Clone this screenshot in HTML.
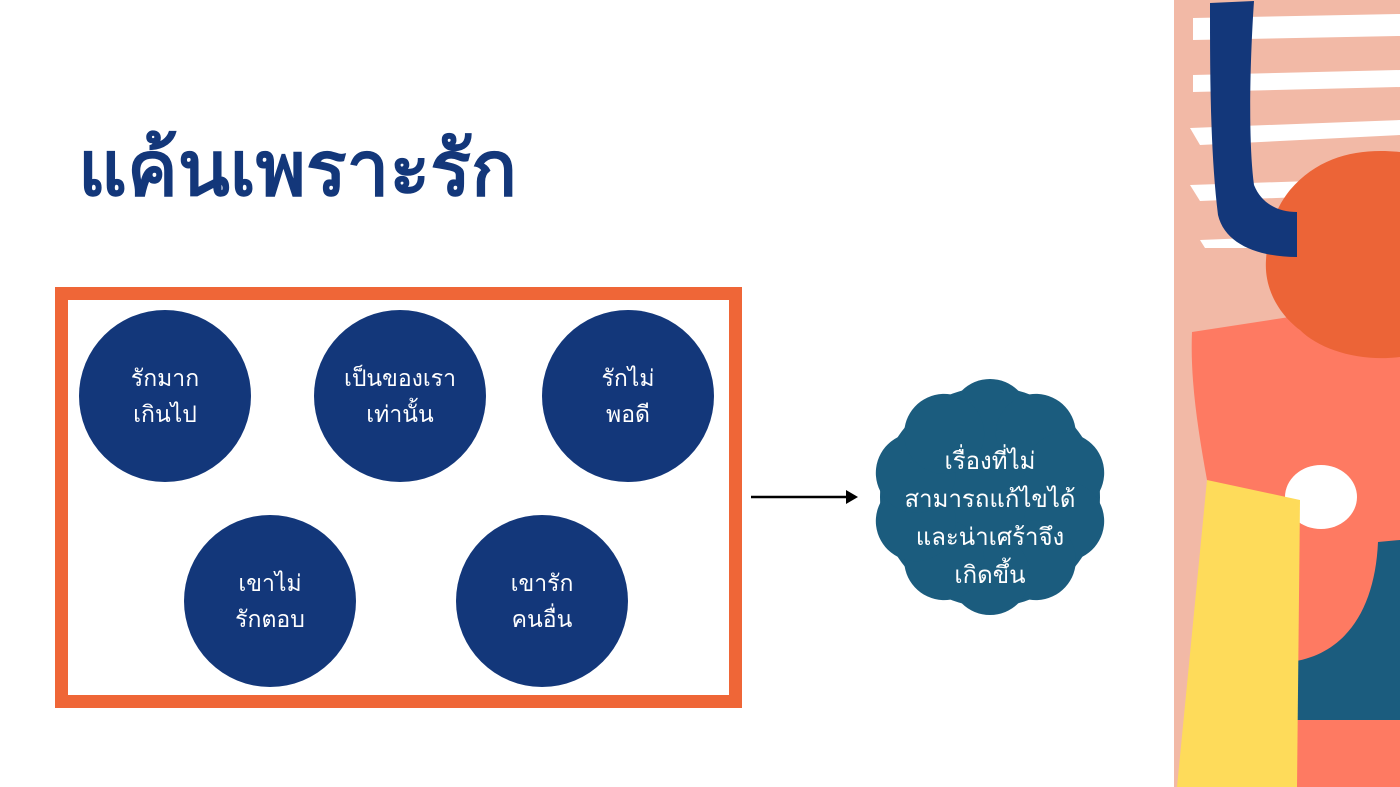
<!DOCTYPE html>
<html><head><meta charset="utf-8"><style>
html,body{margin:0;padding:0;width:1400px;height:787px;overflow:hidden;background:#fff;font-family:"Liberation Sans","DejaVu Sans","Noto Sans CJK SC",sans-serif;}
.t{position:absolute;left:78px;top:124px;font-size:76px;font-weight:bold;color:#13377a;white-space:nowrap;line-height:1.2}
.box{position:absolute;left:55px;top:287px;width:661px;height:395px;border:13px solid #ef6637}
.c{position:absolute;width:172px;height:172px;border-radius:50%;background:#13377a;color:#fff;font-size:23px;line-height:36px;display:flex;align-items:center;justify-content:center;text-align:center}
.b{position:absolute;left:870px;top:400px;width:240px;height:238px;color:#fff;font-size:24px;line-height:38px;display:flex;align-items:center;justify-content:center;text-align:center}
</style></head><body>
<div class="t">แค้นเพราะรัก</div>
<div class="box"></div>
<div class="c" style="left:79px;top:310px">รักมาก<br>เกินไป</div>
<div class="c" style="left:314px;top:310px">เป็นของเรา<br>เท่านั้น</div>
<div class="c" style="left:542px;top:310px">รักไม่<br>พอดี</div>
<div class="c" style="left:184px;top:515px">เขาไม่<br>รักตอบ</div>
<div class="c" style="left:456px;top:515px">เขารัก<br>คนอื่น</div>
<svg width="1400" height="787" style="position:absolute;left:0;top:0">
<line x1="751" y1="497" x2="848" y2="497" stroke="#000" stroke-width="2.5"/>
<polygon points="846,490 858,497 846,504" fill="#000"/>
<g fill="#1b5c7e" transform="translate(990,497)">
<circle r="110"/>
<g id="bp"><circle cx="0" cy="-78" r="40"/></g>
<use href="#bp" transform="rotate(36)"/><use href="#bp" transform="rotate(72)"/><use href="#bp" transform="rotate(108)"/><use href="#bp" transform="rotate(144)"/><use href="#bp" transform="rotate(180)"/><use href="#bp" transform="rotate(216)"/><use href="#bp" transform="rotate(252)"/><use href="#bp" transform="rotate(288)"/><use href="#bp" transform="rotate(324)"/>
</g>
<rect x="1174" y="0" width="226" height="787" fill="#f2b9a6"/>
<g fill="#fff">
<polygon points="1193,18 1400,14 1400,36 1193,40"/>
<polygon points="1193,75 1400,70 1400,87 1193,92"/>
<polygon points="1190,128 1400,120 1400,135 1200,145"/>
<polygon points="1190,185 1400,178 1400,193 1200,201"/>
<path d="M1200,240 L1300,236 L1300,248 L1205,248 Z"/>
</g>
<path d="M1192,332 L1400,300 L1400,787 L1230,787 L1207,480 C1198,430 1190,380 1192,332 Z" fill="#fe7a62"/>
<path d="M1290,190 C1320,155 1360,148 1400,152 L1400,357 C1360,362 1320,350 1300,330 C1280,315 1264,290 1266,260 C1268,225 1278,205 1290,190 Z" fill="#ec6437"/>
<path d="M1210,3 L1254,1 C1250,60 1248,140 1254,185 C1262,205 1280,212 1297,212 L1297,257 C1260,257 1225,245 1218,215 C1210,150 1210,70 1210,3 Z" fill="#13377a"/>
<path d="M1378,542 L1400,540 L1400,720 L1290,720 L1290,662 C1345,655 1375,610 1378,542 Z" fill="#1b5c7e"/>
<ellipse cx="1321" cy="497" rx="36" ry="32" fill="#fff"/>
<polygon points="1207,480 1300,500 1297,787 1177,787" fill="#fedb5a"/>
</svg>
<div class="b">เรื่องที่ไม่<br>สามารถแก้ไขได้<br>และน่าเศร้าจึง<br>เกิดขึ้น</div>
</body></html>
